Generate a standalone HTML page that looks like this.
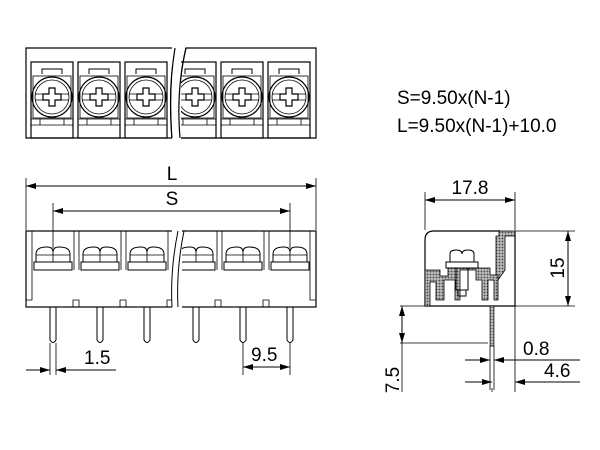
<!DOCTYPE html>
<html><head><style>body{margin:0;background:#fff}svg{display:block}text{font-family:"Liberation Sans",sans-serif;fill:#000}</style></head><body>
<svg width="600" height="450" viewBox="0 0 600 450" xmlns="http://www.w3.org/2000/svg">
<defs>
<marker id="a" viewBox="0 0 10 6" refX="10" refY="3" markerWidth="11" markerHeight="6" orient="auto-start-reverse" markerUnits="userSpaceOnUse"><path d="M0,0L10,3L0,6z" fill="#000"/></marker>
<pattern id="h" width="3" height="3" patternUnits="userSpaceOnUse"><rect width="3" height="3" fill="#bbb"/><circle cx="1.5" cy="1.5" r="0.9" fill="#444"/></pattern>
<g id="cell">
<rect x="-21" y="62" width="42" height="76" fill="none" stroke="#000" stroke-width="1.2"/>
<path d="M-10,74V69H10V74" fill="none" stroke="#000"/>
<rect x="-19" y="76" width="38" height="42" fill="none" stroke="#000" stroke-width="0.8"/>
<circle cx="0" cy="97" r="20" fill="none" stroke="#000" stroke-width="1.2"/>
<circle cx="0" cy="97" r="17" fill="none" stroke="#000" stroke-width="0.8"/>
<path d="M-17,94H-8M8,94H17M-17,100H-8M8,100H17" stroke="#000" stroke-width="0.8"/>
<path d="M-3,88H3V94H9V100H3V106H-3V100H-9V94H-3z" fill="none" stroke="#000" stroke-width="1.2"/>
<path d="M-21,119H21M-21,125H21M-12,119V125M12,119V125" stroke="#000" stroke-width="0.8"/>
</g>
<g id="fc">
<path d="M-17,262V254Q-17,247 -6,247Q0,247 0,252Q0,247 6,247Q17,247 17,254V262" fill="none" stroke="#000"/>
<path d="M-17,255H17M0,252V262" stroke="#000" stroke-width="0.8"/>
<rect x="-19" y="262" width="38" height="8" fill="none" stroke="#000"/>
<path d="M-3,307V340Q0,345 3,340V307" fill="none" stroke="#000"/>
</g>
</defs>
<!-- top view -->
<path d="M26,48H175Q168,90 172,138H26z" fill="none" stroke="#000" stroke-width="1.2"/>
<path d="M186,48H316V138H180Q176,90 186,48z" fill="none" stroke="#000" stroke-width="1.2"/>
<use href="#cell" x="52"/><use href="#cell" x="99"/><use href="#cell" x="146"/>
<use href="#cell" x="195"/><use href="#cell" x="242"/><use href="#cell" x="289"/>
<rect x="172" y="47" width="9" height="93" fill="#fff"/>
<path d="M175,48Q168,90 172,138M186,48Q176,90 180,138" fill="none" stroke="#000" stroke-width="1.2"/>
<!-- front view -->
<rect x="26" y="231" width="290" height="76" fill="none" stroke="#000" stroke-width="1.2"/>
<path d="M32,231V300H26M310,231V300H316" fill="none" stroke="#000" stroke-width="0.8"/>
<path d="M74,231V270M79,231V270M121,231V270M126,231V270M168,231V270M217,231V270M222,231V270M264,231V270M269,231V270" stroke="#000" stroke-width="0.8"/>
<path d="M73,307V300H79V307M120,307V300H126V307M167,307V300H173V307M215,307V300H221V307M263,307V300H269V307" fill="none" stroke="#000" stroke-width="0.8"/>
<use href="#fc" x="53"/><use href="#fc" x="100"/><use href="#fc" x="147"/>
<use href="#fc" x="196"/><use href="#fc" x="243"/><use href="#fc" x="290"/>
<rect x="172" y="230" width="10" height="78" fill="#fff"/>
<path d="M178,231Q170,270 172,307M184,231Q176,270 178,307" fill="none" stroke="#000"/>
<!-- dims front -->
<path d="M26,230V178M316,230V178M53,248V203M290,248V203" stroke="#000" stroke-width="0.8"/>
<line x1="26" y1="186" x2="316" y2="186" stroke="#000" marker-start="url(#a)" marker-end="url(#a)"/>
<line x1="53" y1="211" x2="290" y2="211" stroke="#000" marker-start="url(#a)" marker-end="url(#a)"/>
<text x="172" y="180" font-size="19" text-anchor="middle">L</text>
<text x="172" y="205" font-size="19" text-anchor="middle">S</text>
<path d="M50,343V375M56,343V375M243,343V375M290,343V375" stroke="#000" stroke-width="0.8"/>
<line x1="26" y1="370" x2="50" y2="370" stroke="#000" marker-end="url(#a)"/>
<line x1="116" y1="370" x2="56" y2="370" stroke="#000" marker-end="url(#a)"/>
<text x="84" y="364" font-size="19">1.5</text>
<line x1="243" y1="367" x2="290" y2="367" stroke="#000" marker-start="url(#a)" marker-end="url(#a)"/>
<text x="251" y="361" font-size="19">9.5</text>
<!-- formulas -->
<text x="397" y="104" font-size="19">S=9.50x(N-1)</text>
<text x="397" y="132" font-size="19">L=9.50x(N-1)+10.0</text>
<!-- side view -->
<path d="M425,306V240Q425,231 434,231H500" fill="none" stroke="#000" stroke-width="1.2"/>
<path d="M425,306H515V231" fill="none" stroke="#000" stroke-width="1.2"/>
<path d="M499,231H515V236H505V270L498,280H490V275H496V236H499z" fill="url(#h)" stroke="#000" stroke-width="0.8"/>
<path d="M425,270H440V276H448V268H490V275H498V300H494V280H488V300H482V280H476V270H460V300H455V280H444V300H436V282H430V306H425z" fill="url(#h)" stroke="#000" stroke-width="0.8"/>
<path d="M450,262V254Q450,250 456,250Q462,250 462,254Q462,250 468,250Q474,250 474,254V262z" fill="none" stroke="#000"/>
<rect x="446" y="262" width="32" height="6" fill="none" stroke="#000"/>
<rect x="456" y="268" width="12" height="22" fill="none" stroke="#000"/>
<rect x="458" y="290" width="8" height="6" fill="none" stroke="#000"/>
<rect x="490" y="306" width="4" height="40" fill="url(#h)" stroke="#000" stroke-width="0.6"/>
<path d="M490,346V390M494,346V390M490,346H494" stroke="#000" stroke-width="0.8"/>
<!-- side dims -->
<path d="M425,230V192M515,230V192M515,231H575M515,306H575M400,306H425M400,343H488M515,306V392M492,388V392" stroke="#000" stroke-width="0.8"/>
<line x1="425" y1="200" x2="515" y2="200" stroke="#000" marker-start="url(#a)" marker-end="url(#a)"/>
<text x="470" y="194" font-size="19" text-anchor="middle">17.8</text>
<line x1="568" y1="231" x2="568" y2="306" stroke="#000" marker-start="url(#a)" marker-end="url(#a)"/>
<text x="0" y="0" font-size="19" text-anchor="middle" transform="translate(564,268) rotate(-90)">15</text>
<line x1="402" y1="306" x2="402" y2="343" stroke="#000" marker-start="url(#a)" marker-end="url(#a)"/>
<line x1="402" y1="343" x2="402" y2="392" stroke="#000" stroke-width="0.8"/>
<text x="0" y="0" font-size="19" text-anchor="middle" transform="translate(399,380) rotate(-90)">7.5</text>
<line x1="465" y1="360" x2="490" y2="360" stroke="#000" marker-end="url(#a)"/>
<line x1="580" y1="360" x2="494" y2="360" stroke="#000" marker-end="url(#a)"/>
<text x="523" y="355" font-size="19">0.8</text>
<line x1="465" y1="382" x2="492" y2="382" stroke="#000" marker-end="url(#a)"/>
<line x1="580" y1="382" x2="515" y2="382" stroke="#000" marker-end="url(#a)"/>
<text x="544" y="377" font-size="19">4.6</text>
</svg>
</body></html>
